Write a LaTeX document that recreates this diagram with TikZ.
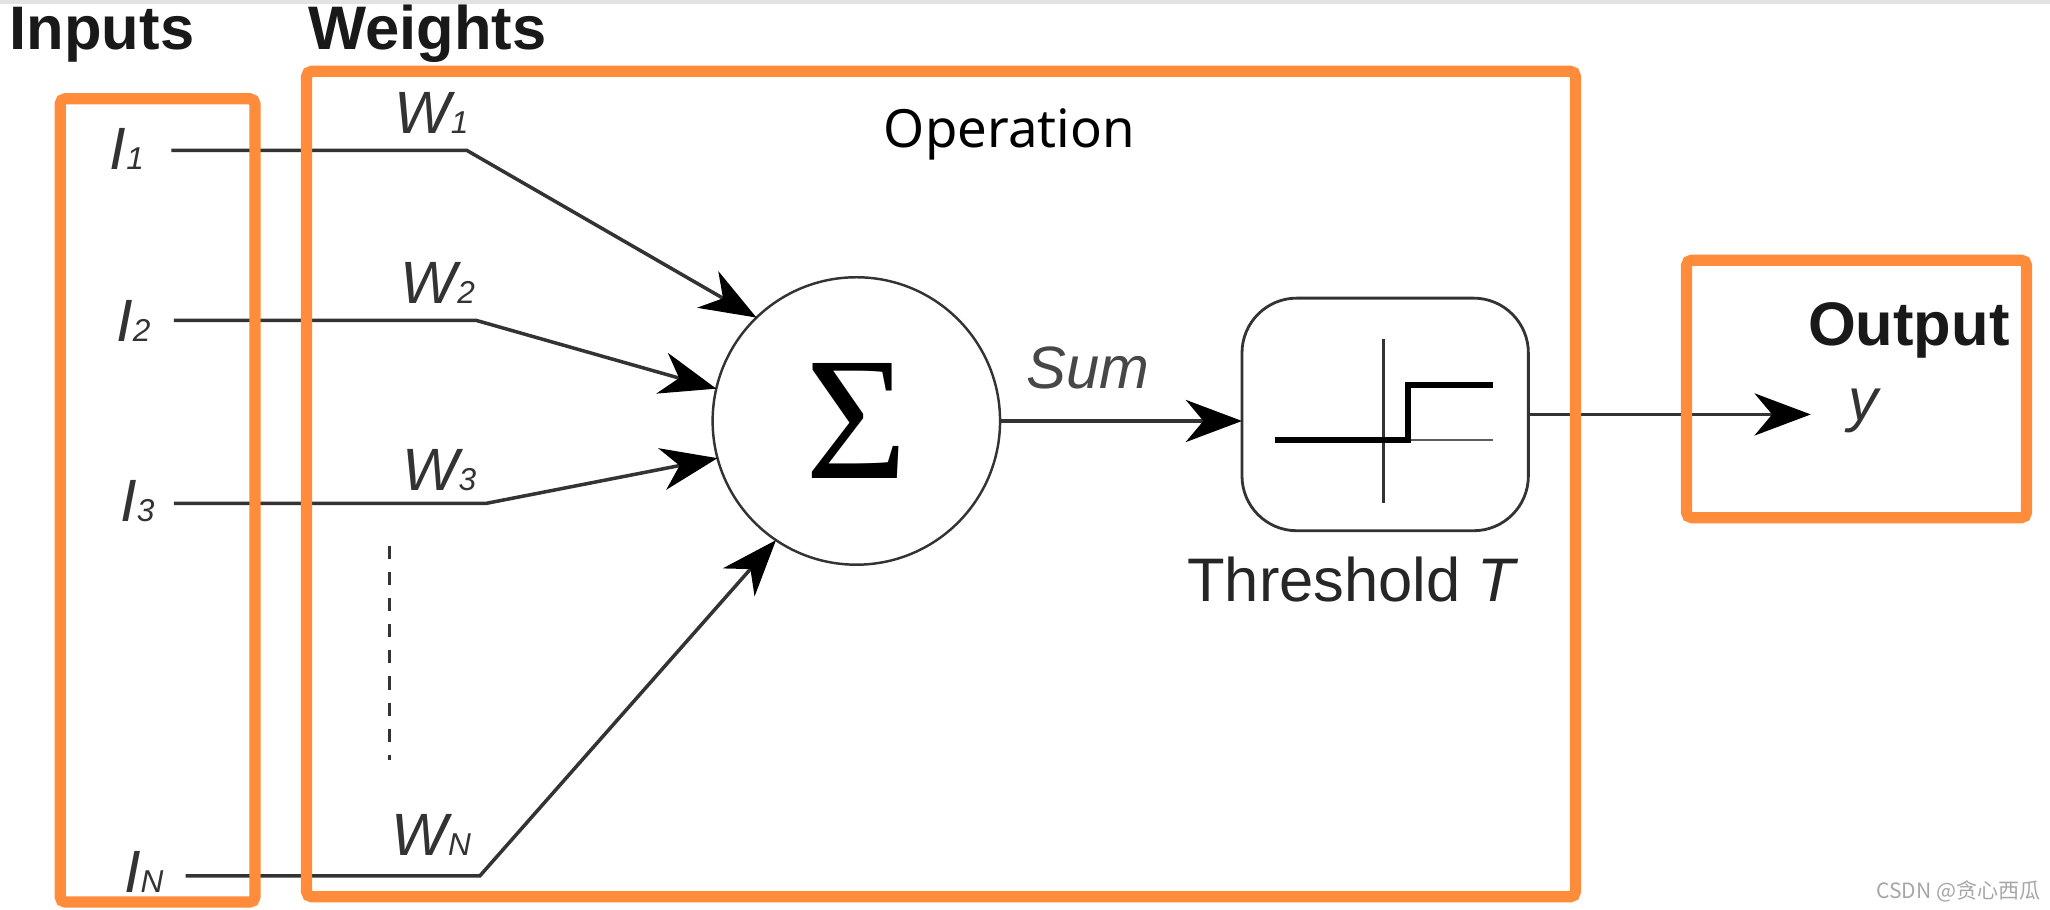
\documentclass[tikz,border=0pt]{standalone}
\usepackage{fontspec}
\setmainfont{Liberation Sans}
\newfontfamily\opfont{Noto Sans}
\newfontfamily\cjkfont{Noto Sans CJK SC}
\newfontfamily\sigfont{Liberation Serif}
\usetikzlibrary{arrows.meta}
\definecolor{orng}{HTML}{FF8C3A}
\definecolor{ink}{HTML}{333333}
\newcommand\mysub[1]{{\fontsize{9}{9}\selectfont #1}}
\begin{document}
\begin{tikzpicture}[x=0.013074cm, y=-0.013074cm,
  conn/.style={draw=ink, line width=1pt},
  arr/.style={-{Stealth[length=16pt,width=12pt,inset=5pt,color=black]}},
  lab/.style={anchor=base, inner sep=0pt, text=ink, font=\fontsize{17}{17}\selectfont\itshape},
  head/.style={anchor=base, inner sep=0pt, text=black!90, font=\fontsize{17.5}{17.5}\selectfont\bfseries},
  obox/.style={draw=orng, line width=3.2pt, rounded corners=1.5pt}]
\useasboundingbox (0,0) rectangle (1568,696);
\fill[gray!22] (0,0) rectangle (1568,3);

% headers
\node[head] (inputs) at (78,38) {Inputs};
\node[head] (weights) at (327,38) {Weights};
\node[head] (output) at (1460,264) {Output};
\node[anchor=base, inner sep=0pt, font=\opfont\fontsize{15}{15}\selectfont] (op) at (772,113) {Operation};

% input labels
\node[lab] (i1) at (97,130) {I\mysub{1}};
\node[lab] (i2) at (102,261) {I\mysub{2}};
\node[lab] (i3) at (105,399) {I\mysub{3}};
\node[lab] (iN) at (110,683) {I\mysub{N}};
% weight labels
\node[lab] (w1) at (330,102) {W\mysub{1}};
\node[lab] (w2) at (335,232) {W\mysub{2}};
\node[lab] (w3) at (336,375) {W\mysub{3}};
\node[lab] (wN) at (330,654) {W\mysub{N}};

% line points
\coordinate (s1) at (131,115); \coordinate (b1) at (357,115);
\coordinate (s2) at (133,245); \coordinate (b2) at (364,245);
\coordinate (s3) at (133,385); \coordinate (b3) at (372,385);
\coordinate (sN) at (142,670); \coordinate (bN) at (367,670);
\coordinate (dtop) at (298,418); \coordinate (dbot) at (298,581);

% summation node
\node[circle, draw=ink, line width=0.7pt, minimum size=81.8pt, inner sep=0pt, outer sep=0pt,
      font=\sigfont\fontsize{50}{50}\selectfont] (sum) at (655,322) {Σ};

\draw[conn, arr] (s1) -- (b1) -- (sum.134.3);
\draw[conn, arr] (s2) -- (b2) -- (sum.167.5);
\draw[conn, arr] (s3) -- (b3) -- (sum.195.5);
\draw[conn, arr] (sN) -- (bN) -- (sum.236.3);
\draw[ink, line width=1pt, dash pattern=on 3.7pt off 3.7pt] (dtop) -- (dbot);

% threshold node
\node[draw=ink, line width=0.8pt, rounded corners=15.6pt, minimum width=81.5pt, minimum height=66.2pt,
      inner sep=0pt, outer sep=0pt] (thr) at (1059.5,317) {};
\draw[ink, line width=0.8pt] (1058,259) -- (1058,385);
\draw[ink!80, line width=0.8pt] (1077,336.5) -- (1142,336.5);
\draw[black, line width=1.7pt] (975,336.5) -- (1077,336.5) -- (1077,294.5) -- (1142,294.5);

\draw[conn, arr] (sum.east) -- (sum.east -| thr.west);
\node[lab, text=ink!90] (sumlab) at (832,297) {Sum};
\node[anchor=base, inner sep=0pt, text=black!85, font=\fontsize{17.5}{17.5}\selectfont] (thrlab) at (1035,460) {Threshold \textit{T}};

% output
\coordinate (yend) at (1385,317);
\draw[conn, arr] (thr.east) -- (yend);
\node[lab] (y) at (1425,322) {y};

% watermark
\node[anchor=base, inner sep=0pt, text=gray!70, font=\cjkfont\fontsize{6}{6}\selectfont] (wm) at (1498,687) {CSDN @贪心西瓜};

% orange boxes
\draw[obox] (46,75.5) rectangle (195,690);
\draw[obox] (234.5,54.5) rectangle (1205,686);
\draw[obox] (1290,199) rectangle (1550,396);
\end{tikzpicture}
\end{document}
